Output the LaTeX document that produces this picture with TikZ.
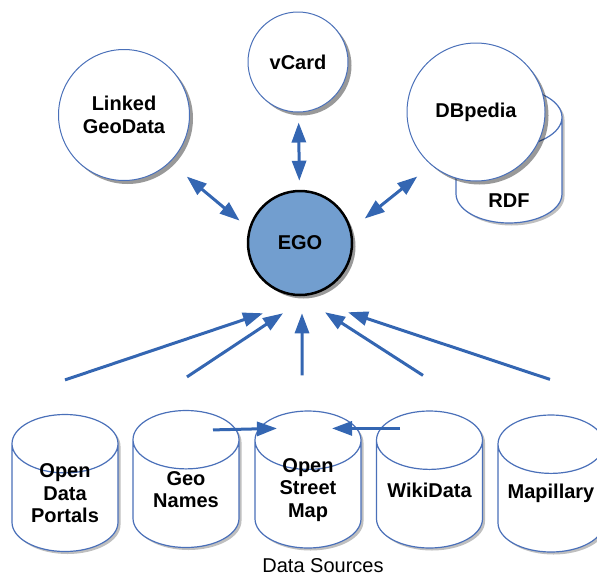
\documentclass[tikz,border=0pt]{standalone}
\usepackage{fontspec}
\setmainfont{Liberation Sans}
\usetikzlibrary{arrows.meta,shapes.geometric,shadows}

\definecolor{linkblue}{RGB}{52,102,178}
\definecolor{rimblue}{RGB}{74,112,185}
\definecolor{egoblue}{RGB}{114,158,207}

\tikzset{
  softshadow/.style={drop shadow={shadow xshift=3.5pt, shadow yshift=-3.5pt, fill=black, opacity=0.4}},
  topic/.style={circle, draw=rimblue, line width=1pt, fill=white, softshadow, align=center, inner sep=0pt},
  source/.style={cylinder, shape border rotate=90, aspect=0.73, draw=rimblue, line width=1.2pt, fill=white,
    minimum width=106pt, minimum height=137pt, text width=80pt, inner sep=0pt, anchor=shape center,
    drop shadow={shadow xshift=2.5pt, shadow yshift=-2.5pt, fill=black, opacity=0.25}},
  sourcetext/.style={align=center, inner sep=0pt},
  flow/.style={linkblue, line width=3pt, -{Triangle[length=20pt,width=14pt]}},
  twoway/.style={linkblue, line width=3pt, {Triangle[length=20pt,width=14pt]}-{Triangle[length=20pt,width=14pt]}}
}

\begin{document}
\begin{tikzpicture}[x=1pt, y=-1pt, font=\fontsize{20}{22.5}\selectfont\bfseries]

\useasboundingbox (0,0) rectangle (597,576);
\clip (0,0) rectangle (597,576);

% RDF store behind DBpedia
\node[source, minimum height=135pt, label={[anchor=base, yshift=16pt]south:RDF}] (rdf) at (509,155.5) {};

\node[topic, minimum size=131pt] (linked) at (124,115) {Linked\\GeoData};
\node[topic, minimum size=100pt] (vcard) at (298,62) {vCard};
\node[topic, minimum size=138pt] (dbpedia) at (476,112) {DBpedia};
\node[topic, minimum size=104pt, fill=egoblue, draw=black, line width=2.5pt] (ego) at (300,243) {EGO};

\node[source] (portals) at (65,483) {};
\node[source] (geonames) at (186,479) {};
\node[source] (osm) at (308,479.5) {};
\node[source] (wikidata) at (429.5,479.5) {};
\node[source] (mapillary) at (551,483.5) {};

\node[sourcetext] (portals-t) at ([yshift=-10.5pt]portals.shape center) {Open\\Data\\Portals};
\node[sourcetext] (geonames-t) at ([yshift=-10.5pt]geonames.shape center) {Geo\\Names};
\node[sourcetext] (osm-t) at ([yshift=-10.5pt]osm.shape center) {Open\\Street\\Map};
\node[sourcetext] (wikidata-t) at ([yshift=-10.5pt]wikidata.shape center) {WikiData};
\node[sourcetext] (mapillary-t) at ([yshift=-9.5pt]mapillary.shape center) {Mapillary};

\node[font=\fontsize{20}{22.5}\selectfont] (sources) at (323,566) {Data Sources};

\draw[twoway, shorten <=22pt, shorten >=12pt] (linked.-46) -- (ego.164);
\draw[twoway, shorten <=10pt, shorten >=9pt] (vcard) -- (ego);
\draw[twoway, shorten <=17pt, shorten >=18pt] (ego.15) -- (dbpedia.-130);

\draw[flow] ([yshift=34pt]portals.north) -- ([xshift=-37pt, yshift=-17pt]ego.south);
\draw[flow] ([xshift=1pt, yshift=33pt]geonames.north) -- ([xshift=-17pt, yshift=-17pt]ego.south);
\draw[flow] ([xshift=-6pt, yshift=35pt]osm.north) -- ([xshift=2pt, yshift=-17pt]ego.south);
\draw[flow] ([xshift=-6.5pt, yshift=35pt]wikidata.north) -- ([xshift=25pt, yshift=-16pt]ego.south);
\draw[flow] ([xshift=-1pt, yshift=35pt]mapillary.north) -- ([xshift=48pt, yshift=-16pt]ego.south);

\draw[flow] ([xshift=27pt, yshift=-20pt]geonames.north) -- ([xshift=-31pt, yshift=-18pt]osm.north);
\draw[flow] ([xshift=-29.5pt, yshift=-18pt]wikidata.north) -- ([xshift=24pt, yshift=-18pt]osm.north);

\end{tikzpicture}
\end{document}
